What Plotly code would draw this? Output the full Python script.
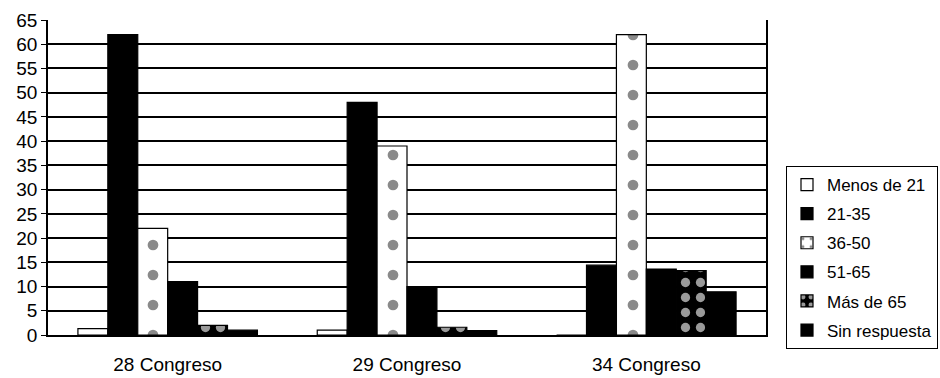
import plotly.graph_objects as go

# Age distribution of congress delegates (percent)
congresos = ["28 Congreso", "29 Congreso", "34 Congreso"]
grupos = ["Menos de 21", "21-35", "36-50", "51-65", "Más de 65", "Sin respuesta"]

menos_21 = [1.3, 1.0, 0.0]
edad_21_35 = [62.0, 48.0, 14.4]
edad_36_50 = [22.0, 39.0, 62.0]
edad_51_65 = [11.0, 10.0, 13.6]
mas_65 = [2.0, 1.6, 13.3]
sin_respuesta = [1.0, 0.9, 8.9]

y_ticks = list(range(0, 70, 5))

series = [menos_21, edad_21_35, edad_36_50, edad_51_65, mas_65, sin_respuesta]

styles = [
    dict(color="white", pattern=dict(shape="")),
    dict(color="black", pattern=dict(shape="")),
    dict(color="white", pattern=dict(shape=".", fgcolor="#8a8a8a", bgcolor="white",
                                     size=30, solidity=0.1, fillmode="replace")),
    dict(color="black", pattern=dict(shape="")),
    dict(color="black", pattern=dict(shape=".", fgcolor="#9a9a9a", bgcolor="black",
                                     size=15, solidity=0.3, fillmode="replace")),
    dict(color="black", pattern=dict(shape="")),
]

fig = go.Figure()
for name, vals, st in zip(grupos, series, styles):
    fig.add_trace(go.Bar(
        x=congresos, y=vals, name=name, legendgroup=name,
        marker=dict(color=st["color"], pattern=st["pattern"],
                    line=dict(color="black", width=1.2)),
    ))

font_main = "Liberation Sans, Arial, Helvetica, sans-serif"

fig.update_layout(
    width=940, height=378,
    margin=dict(l=48, r=174, t=20, b=43, autoexpand=False),
    paper_bgcolor="white", plot_bgcolor="white",
    barmode="group", bargap=0.25, bargroupgap=0,
    font=dict(family=font_main, size=16, color="black"),
    showlegend=True,
    legend=dict(
        xref="container", yref="container",
        x=786 / 940, xanchor="left",
        y=1 - 166 / 378, yanchor="top",
        bordercolor="black", borderwidth=1,
        bgcolor="white",
        font=dict(family=font_main, size=17, color="black"),
        traceorder="grouped", tracegroupgap=4, itemwidth=30,
    ),
)

fig.update_yaxes(
    range=[0, 65], tickvals=y_ticks, ticktext=[str(v) for v in y_ticks],
    showgrid=True, gridcolor="black", gridwidth=2,
    showline=True, linecolor="black", linewidth=1.5, mirror=True,
    ticks="outside", ticklen=5, tickcolor="black",
    zeroline=False, fixedrange=True, automargin=False,
    tickfont=dict(size=19),
)
fig.update_xaxes(
    showgrid=False, showline=True, linecolor="black", linewidth=2,
    ticks="", tickfont=dict(size=19), ticklabelstandoff=11,
    fixedrange=True, automargin=False,
)

fig.write_html("out.html")
